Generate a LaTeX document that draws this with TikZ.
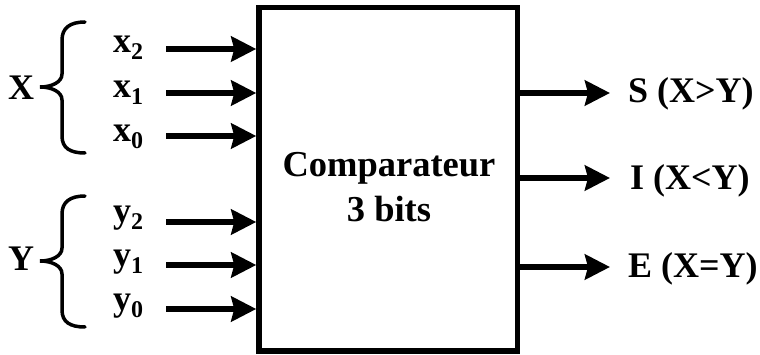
\documentclass[tikz,border=0pt]{standalone}
\usepackage{fontspec}
\setmainfont{Liberation Serif}
\usetikzlibrary{arrows.meta}
\newcommand\sbs[1]{\raisebox{-7pt}{\fontsize{24}{24}\selectfont #1}}
\tikzset{
  lbl/.style={inner sep=0pt, anchor=base west, font=\bfseries\fontsize{36}{43}\selectfont},
  arr/.style={line width=6pt, -{Stealth[length=25pt,width=25pt,inset=3pt]}},
  bracepic/.pic={
    \draw[line width=3.5pt, line cap=round]
      (45,-65) .. controls (30,-65) and (22,-59) .. (22,-47) -- (22,-13)
      .. controls (22,-5) and (12,0) .. (0,0)
      .. controls (12,0) and (22,5) .. (22,13) -- (22,49)
      .. controls (22,61) and (30,66) .. (45,66);
  }
}
\begin{document}
\begin{tikzpicture}[x=1pt,y=-1pt]
\useasboundingbox (0,0) rectangle (760,355);
% main box
\node[draw, line width=5.5pt, minimum width=258.5pt, minimum height=343.5pt, inner sep=0pt] (cmp) at (388.25,179.25) {};
\node[align=center, inner sep=0pt, font=\bfseries\fontsize{36.5}{45}\selectfont] (cmptxt) at (389,187) {Comparateur\\3 bits};
% group labels and braces
\node[lbl] (X) at (8,100) {X};
\node[lbl] (Y) at (8,271) {Y};
\pic at (40,87) {bracepic};
\pic at (40,261) {bracepic};
% input labels
\node[lbl] (x2) at (113,53) {x\sbs{2}};
\node[lbl] (x1) at (113,98) {x\sbs{1}};
\node[lbl] (x0) at (113,142) {x\sbs{0}};
\node[lbl] (y2) at (113,223) {y\sbs{2}};
\node[lbl] (y1) at (113,267) {y\sbs{1}};
\node[lbl] (y0) at (113,310) {y\sbs{0}};
% input arrow starts
\coordinate (ax2) at (166,49);
\coordinate (ax1) at (166,93);
\coordinate (ax0) at (166,136);
\coordinate (ay2) at (166,222);
\coordinate (ay1) at (166,265);
\coordinate (ay0) at (166,309);
\foreach \c in {ax2,ax1,ax0,ay2,ay1,ay0}
  \draw[arr] (\c) -- (\c -| cmp.west);
% outputs
\coordinate (oS) at (610,93);
\coordinate (oI) at (610,178);
\coordinate (oE) at (610,267);
\foreach \c in {oS,oI,oE}
  \draw[arr] (\c -| cmp.east) -- (\c);
\node[lbl] (S) at (628,103) {S (X>Y)};
\node[lbl] (I) at (630,190) {I (X<Y)};
\node[lbl] (E) at (628,277) {E (X=Y)};
\end{tikzpicture}
\end{document}
